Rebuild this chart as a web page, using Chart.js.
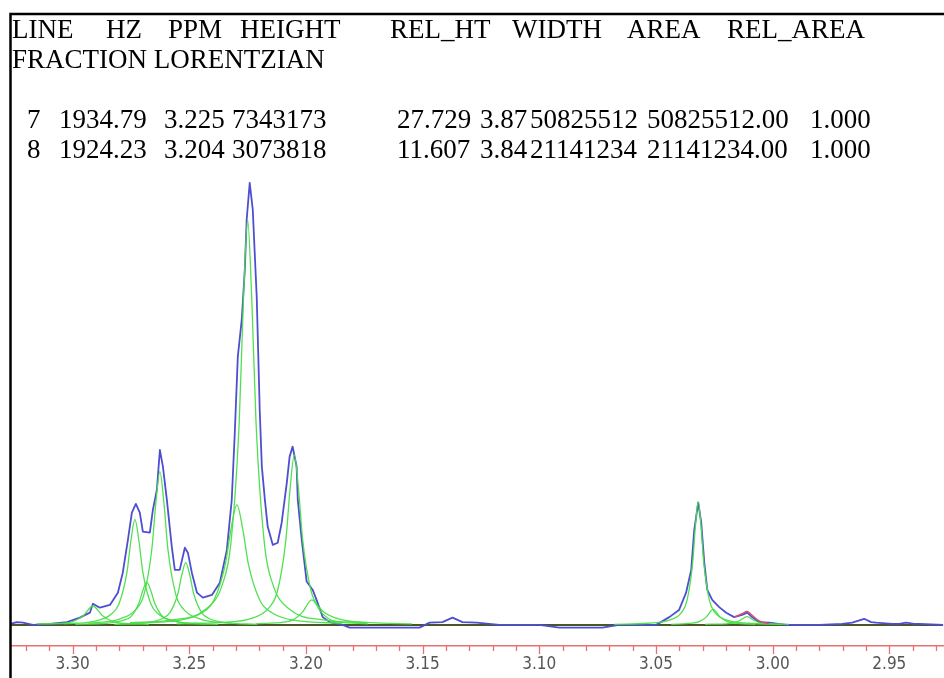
<!DOCTYPE html>
<html>
<head>
<meta charset="utf-8">
<script src="https://cdn.jsdelivr.net/npm/chart.js@4.4.1/dist/chart.umd.min.js"></script>
<style>
  html, body { margin: 0; padding: 0; background: #fff; }
  #wrap { width: 944px; height: 678px; }
</style>
</head>
<body>
<div id="wrap"><canvas id="spectrum" width="944" height="678"></canvas></div>
<script>
// Tabla de picos (texto de cabecera)
const headerWords = ['LINE', 'HZ', 'PPM', 'HEIGHT', 'REL_HT', 'WIDTH', 'AREA', 'REL_AREA'];
const headerLine2 = 'FRACTION LORENTZIAN';
const peakRow7 = ['7', '1934.79', '3.225', '7343173', '27.729', '3.87', '50825512', '50825512.00', '1.000'];
const peakRow8 = ['8', '1924.23', '3.204', '3073818', '11.607', '3.84', '21141234', '21141234.00', '1.000'];

// Eje ppm
const majorTicks = [3.30, 3.25, 3.20, 3.15, 3.10, 3.05, 3.00, 2.95];
const minorTicks = [3.32, 3.31, 3.29, 3.28, 3.27, 3.26, 3.24, 3.23, 3.22, 3.21, 3.19, 3.18, 3.17, 3.16,
                    3.14, 3.13, 3.12, 3.11, 3.09, 3.08, 3.07, 3.06, 3.04, 3.03, 3.02, 3.01, 2.99, 2.98,
                    2.97, 2.96, 2.94, 2.93];
const ppmLeft = 3.3264;
const ppmRight = 2.9269;

// Espectro experimental [ppm, intensidad (millones)]
const spectrum = [
  [3.3264, 0.02], [3.3239, 0.05], [3.3213, 0.04], [3.3170, 0.0], [3.3097, 0.02], [3.3024, 0.05],
  [3.2969, 0.13], [3.2926, 0.22], [3.2913, 0.38], [3.2883, 0.31], [3.2840, 0.36], [3.2806, 0.58],
  [3.2785, 0.94], [3.2763, 1.53], [3.2746, 2.02], [3.2729, 2.18], [3.2712, 2.02], [3.2699, 1.68],
  [3.2669, 1.66], [3.2656, 2.07], [3.2639, 2.43], [3.2626, 3.15], [3.2613, 2.85], [3.2596, 2.25],
  [3.2575, 1.41], [3.2562, 0.99], [3.2541, 0.99], [3.2519, 1.39], [3.2506, 1.30], [3.2489, 0.94],
  [3.2467, 0.58], [3.2442, 0.49], [3.2403, 0.54], [3.2369, 0.76], [3.2339, 1.35], [3.2318, 2.25],
  [3.2305, 3.46], [3.2292, 4.83], [3.2275, 5.50], [3.2262, 6.40], [3.2254, 7.30], [3.2241, 7.96],
  [3.2228, 7.48], [3.2211, 5.91], [3.2198, 3.85], [3.2189, 2.85], [3.2176, 2.25], [3.2164, 1.77],
  [3.2142, 1.44], [3.2121, 1.48], [3.2104, 1.84], [3.2082, 2.56], [3.2070, 3.03], [3.2057, 3.21],
  [3.2040, 2.85], [3.2035, 2.25], [3.2018, 1.53], [3.1997, 0.78], [3.1971, 0.63], [3.1950, 0.40],
  [3.1928, 0.14], [3.1898, 0.05], [3.1843, 0.0], [3.1813, -0.05], [3.1714, -0.05], [3.1569, -0.05],
  [3.1513, -0.05], [3.1470, 0.04], [3.1415, 0.05], [3.1372, 0.13], [3.1329, 0.05], [3.1269, 0.04],
  [3.1171, 0.0], [3.1000, 0.0], [3.0914, -0.05], [3.0730, -0.05], [3.0658, 0.0], [3.0563, 0.0],
  [3.0499, 0.0], [3.0443, 0.14], [3.0401, 0.27], [3.0371, 0.58], [3.0349, 0.99], [3.0336, 1.71],
  [3.0319, 2.20], [3.0306, 1.84], [3.0293, 1.12], [3.0280, 0.63], [3.0259, 0.45], [3.0229, 0.32],
  [3.0199, 0.22], [3.0165, 0.14], [3.0131, 0.18], [3.0109, 0.22], [3.0088, 0.14], [3.0058, 0.05],
  [3.0015, 0.04], [2.9942, 0.0], [2.9899, 0.0], [2.9801, 0.0], [2.9702, 0.02], [2.9659, 0.04],
  [2.9608, 0.11], [2.9578, 0.05], [2.9556, 0.04], [2.9488, 0.02], [2.9458, 0.02], [2.9428, 0.04],
  [2.9394, 0.02], [2.9372, 0.02], [2.9269, 0.0]
];

// Componentes lorentzianas ajustadas (verde)
const fit1 = [[3.3153, 0.02], [3.3033, 0.03], [3.2993, 0.07], [3.2953, 0.17], [3.2913, 0.34], [3.2873, 0.17],
              [3.2833, 0.07], [3.2793, 0.03], [3.2673, 0.01]];
const fit2 = [[3.3039, 0.02], [3.2903, 0.07], [3.2835, 0.19], [3.2801, 0.38], [3.2767, 0.95], [3.2750, 1.52],
              [3.2733, 1.90], [3.2716, 1.52], [3.2699, 0.95], [3.2665, 0.38], [3.2631, 0.19], [3.2563, 0.07],
              [3.2427, 0.02]];
const fit3 = [[3.2988, 0.01], [3.2852, 0.03], [3.2784, 0.08], [3.2750, 0.15], [3.2716, 0.39], [3.2699, 0.62],
              [3.2682, 0.77], [3.2665, 0.62], [3.2648, 0.39], [3.2614, 0.15], [3.2580, 0.08], [3.2512, 0.03],
              [3.2376, 0.01]];
const fit4 = [[3.2932, 0.03], [3.2796, 0.11], [3.2728, 0.28], [3.2694, 0.55], [3.2660, 1.38], [3.2643, 2.21],
              [3.2626, 2.76], [3.2609, 2.21], [3.2592, 1.38], [3.2558, 0.55], [3.2524, 0.28], [3.2456, 0.11],
              [3.2320, 0.03]];
const fit5 = [[3.2821, 0.01], [3.2685, 0.04], [3.2617, 0.11], [3.2583, 0.22], [3.2549, 0.56], [3.2532, 0.90],
              [3.2515, 1.12], [3.2498, 0.90], [3.2481, 0.56], [3.2447, 0.22], [3.2413, 0.11], [3.2345, 0.04],
              [3.2209, 0.01]];
const fit6 = [[3.2746, 0.03], [3.2546, 0.08], [3.2446, 0.22], [3.2396, 0.43], [3.2346, 1.08], [3.2321, 1.73],
              [3.2296, 2.16], [3.2271, 1.73], [3.2246, 1.08], [3.2196, 0.43], [3.2146, 0.22], [3.2046, 0.08],
              [3.1846, 0.03]];
const fit7 = [[3.2754, 0.04], [3.2574, 0.09], [3.2430, 0.28], [3.2358, 0.73], [3.2322, 1.46], [3.2286, 3.65],
              [3.2268, 5.84], [3.2250, 7.30], [3.2232, 5.84], [3.2214, 3.65], [3.2178, 1.46], [3.2142, 0.73],
              [3.2070, 0.28], [3.1926, 0.09], [3.1746, 0.04]];
const fit8 = [[3.2554, 0.02], [3.2374, 0.04], [3.2230, 0.12], [3.2158, 0.31], [3.2122, 0.61], [3.2086, 1.53],
              [3.2068, 2.45], [3.2050, 3.06], [3.2032, 2.45], [3.2014, 1.53], [3.1978, 0.61], [3.1942, 0.31],
              [3.1870, 0.12], [3.1726, 0.04], [3.1546, 0.02]];
const fit9 = [[3.2215, 0.02], [3.2095, 0.05], [3.2055, 0.09], [3.2015, 0.23], [3.1975, 0.45], [3.1935, 0.23],
              [3.1895, 0.09], [3.1855, 0.05], [3.1735, 0.02]];
const fit10 = [[3.0679, 0.01], [3.0535, 0.03], [3.0439, 0.09], [3.0391, 0.22], [3.0367, 0.44], [3.0343, 1.11],
               [3.0331, 1.78], [3.0319, 2.22], [3.0307, 1.78], [3.0295, 1.11], [3.0271, 0.44], [3.0247, 0.22],
               [3.0199, 0.09], [3.0103, 0.03], [2.9959, 0.01]];
const fit11 = [[3.0435, 0.01], [3.0345, 0.03], [3.0315, 0.06], [3.0285, 0.14], [3.0255, 0.28], [3.0225, 0.14],
               [3.0195, 0.06], [3.0165, 0.03], [3.0075, 0.01]];
const fit12 = [[3.0290, 0.01], [3.0200, 0.02], [3.0170, 0.03], [3.0140, 0.08], [3.0110, 0.15], [3.0080, 0.08],
               [3.0050, 0.03], [3.0020, 0.02], [2.9930, 0.01]];
const fitComponents = [fit1, fit2, fit3, fit4, fit5, fit6, fit7, fit8, fit9, fit10, fit11, fit12];

// Suma del ajuste (rojo), visible junto a 3.01
const fitSum = [[3.0165, 0.14], [3.0131, 0.20], [3.0109, 0.24], [3.0088, 0.17], [3.0058, 0.07], [3.0015, 0.02]];
const baseline = [[ppmLeft, 0], [ppmRight, 0]];

// Posiciones del texto (px)
const headerX = [12, 106, 168, 240, 390, 512, 627, 727];
const rowX = [27, 59, 164, 232, 397, 480, 530, 647, 810];
const textY = [38, 68, 128, 158];

const toXY = arr => arr.map(([x, y]) => ({ x, y }));

const tablePlugin = {
  id: 'peakTable',
  beforeDraw(chart) {
    const ctx = chart.ctx;
    ctx.save();
    ctx.fillStyle = '#fff';
    ctx.fillRect(0, 0, chart.width, chart.height);
    ctx.restore();
  },
  afterDraw(chart) {
    const ctx = chart.ctx;
    ctx.save();
    ctx.fillStyle = '#000';
    ctx.textBaseline = 'alphabetic';
    ctx.font = '27px "Liberation Serif", "Times New Roman", serif';
    headerWords.forEach((w, i) => ctx.fillText(w, headerX[i], textY[0]));
    ctx.fillText(headerLine2, 12, textY[1]);
    peakRow7.forEach((w, i) => ctx.fillText(w, rowX[i], textY[2]));
    peakRow8.forEach((w, i) => ctx.fillText(w, rowX[i], textY[3]));

    // marco
    ctx.strokeStyle = '#000';
    ctx.lineWidth = 2.5;
    ctx.beginPath();
    ctx.moveTo(10.5, chart.height);
    ctx.lineTo(10.5, 14);
    ctx.lineTo(chart.width, 14);
    ctx.stroke();

    // marcas del eje
    const xs = chart.scales.x;
    const y0 = chart.chartArea.bottom;
    ctx.strokeStyle = '#e87272';
    ctx.lineWidth = 1.3;
    xs.ticks.forEach(t => {
      const px = Math.round(xs.getPixelForValue(t.value)) + 0.5;
      const len = majorTicks.includes(t.value) ? 8 : 5;
      ctx.beginPath();
      ctx.moveTo(px, y0);
      ctx.lineTo(px, y0 + len);
      ctx.stroke();
    });
    ctx.restore();
  }
};

const datasets = [];
datasets.push({
  label: 'ajuste',
  data: toXY(fitSum),
  borderColor: '#d0507a',
  borderWidth: 1.5,
  tension: 0.3,
  order: 1
});
fitComponents.forEach((c, i) => {
  datasets.push({
    label: 'L' + (i + 1),
    data: toXY(c),
    borderColor: 'rgba(72, 222, 72, 0.95)',
    borderWidth: 1.3,
    cubicInterpolationMode: 'monotone',
    order: 2
  });
});
datasets.push({
  label: 'espectro',
  data: toXY(spectrum),
  borderColor: '#4e4ed0',
  borderWidth: 1.8,
  tension: 0,
  order: 5
});
datasets.push({
  label: 'linea base',
  data: toXY(baseline),
  borderColor: '#4a5628',
  borderWidth: 2,
  order: 10
});

new Chart(document.getElementById('spectrum'), {
  type: 'line',
  data: { datasets },
  options: {
    responsive: false,
    animation: false,
    devicePixelRatio: 1,
    layout: { padding: { left: 11, top: 14, right: 0, bottom: 0 } },
    elements: { point: { radius: 0 }, line: { borderJoinStyle: 'round' } },
    plugins: { legend: { display: false }, tooltip: { enabled: false } },
    scales: {
      x: {
        type: 'linear',
        reverse: true,
        min: ppmRight,
        max: ppmLeft,
        afterBuildTicks: s => {
          s.ticks = majorTicks.concat(minorTicks).map(v => ({ value: v }));
        },
        afterFit: s => { s.height = 32; },
        grid: { display: true, drawOnChartArea: false, drawTicks: false },
        border: { display: true, color: '#e87272', width: 1.5 },
        ticks: {
          autoSkip: false,
          maxRotation: 0,
          padding: 8,
          color: '#555',
          font: { family: '"Liberation Sans Narrow", "DejaVu Sans Condensed", sans-serif', size: 17 },
          callback: v => majorTicks.includes(v) ? v.toFixed(2) : ''
        }
      },
      y: {
        display: false,
        min: -0.38,
        max: 11.0
      }
    }
  },
  plugins: [tablePlugin]
});
</script>
</body>
</html>
